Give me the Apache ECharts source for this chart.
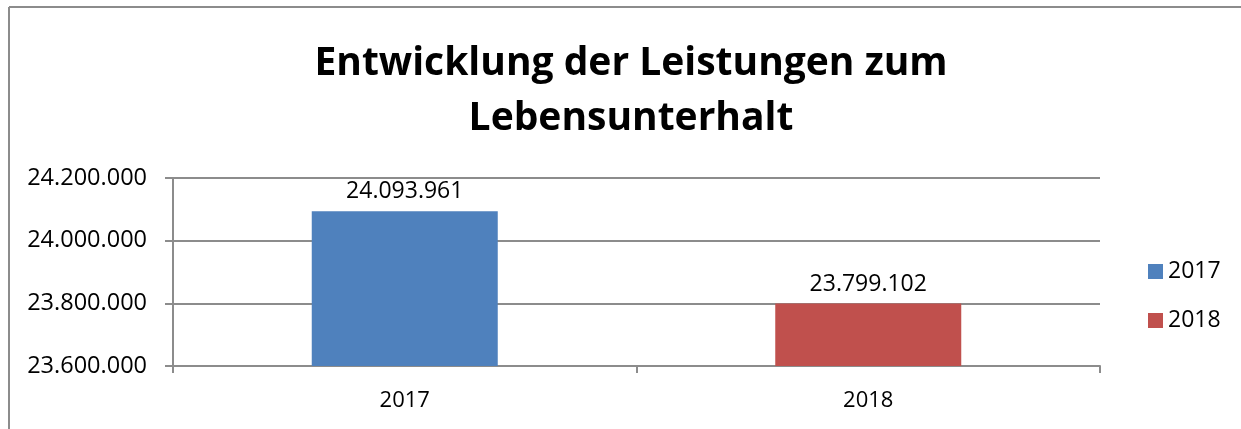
<!DOCTYPE html>
<html>
<head>
<meta charset="utf-8">
<title>Entwicklung der Leistungen zum Lebensunterhalt</title>
<script src="https://cdn.jsdelivr.net/npm/echarts@6/dist/echarts.min.js"></script>
<style>
  html, body { margin: 0; padding: 0; background: #fff; }
  #chart { width: 1241px; height: 429px; }
</style>
</head>
<body>
<div id="chart"></div>
<script>
const categories = ['2017', '2018'];
const seriesNames = ['2017', '2018'];
const values2017 = [24093961, null];
const values2018 = [null, 23799102];
const yTicks = [23600000, 23800000, 24000000, 24200000];

const FONT = "'Open Sans', 'Noto Sans', sans-serif";

// Tausenderpunkte wie im Original
function dotted(v) {
    return String(Math.round(v)).replace(/\B(?=(\d{3})+(?!\d))/g, '.');
}

const chart = echarts.init(document.getElementById('chart'));

const option = {
    animation: false,
    backgroundColor: '#ffffff',
    textStyle: {fontFamily: FONT},
    title: {
        text: 'Entwicklung der Leistungen zum\nLebensunterhalt',
        left: 626,
        top: 31,
        textAlign: 'center',
        textStyle: {fontFamily: FONT, fontSize: 39, fontWeight: 'bold', color: '#000', lineHeight: 55}
    },
    legend: {
        orient: 'vertical',
        left: 1143,
        top: 255,
        itemWidth: 15,
        itemHeight: 15,
        itemGap: 26,
        icon: 'rect',
        data: seriesNames,
        textStyle: {fontFamily: FONT, fontSize: 23, color: '#000'}
    },
    grid: {left: 173, right: 141, top: 178, bottom: 63},
    xAxis: {
        type: 'category',
        data: categories,
        axisLine: {lineStyle: {color: '#8c8c8c', width: 2}},
        axisTick: {show: true, length: 7, lineStyle: {color: '#8c8c8c', width: 2}},
        axisLabel: {fontFamily: FONT, fontSize: 22, color: '#000', margin: 24}
    },
    yAxis: {
        type: 'value',
        min: yTicks[0],
        max: yTicks[yTicks.length - 1],
        interval: yTicks[1] - yTicks[0],
        axisLine: {show: true, lineStyle: {color: '#8c8c8c', width: 2}},
        axisTick: {show: true, length: 8, lineStyle: {color: '#8c8c8c', width: 2}},
        splitLine: {lineStyle: {color: '#8c8c8c', width: 2}},
        axisLabel: {fontFamily: FONT, fontSize: 23.5, color: '#000', margin: 26, formatter: dotted}
    },
    series: [
        {
            name: seriesNames[0],
            type: 'bar',
            data: values2017,
            barWidth: 186,
            barGap: '-100%',
            itemStyle: {color: '#4f81bd'},
            label: {show: true, position: 'top', distance: 8, fontFamily: FONT, fontSize: 23, color: '#000',
                    formatter: p => dotted(p.value)}
        },
        {
            name: seriesNames[1],
            type: 'bar',
            data: values2018,
            barWidth: 186,
            itemStyle: {color: '#c0504d'},
            label: {show: true, position: 'top', distance: 8, fontFamily: FONT, fontSize: 23, color: '#000',
                    formatter: p => dotted(p.value)}
        }
    ],
    graphic: [
        {type: 'line', shape: {x1: 9, y1: 7, x2: 1241, y2: 7}, style: {stroke: '#8c8c8c', lineWidth: 2}},
        {type: 'line', shape: {x1: 9, y1: 7, x2: 9, y2: 429}, style: {stroke: '#8c8c8c', lineWidth: 2}}
    ]
};

chart.setOption(option);
</script>
</body>
</html>
